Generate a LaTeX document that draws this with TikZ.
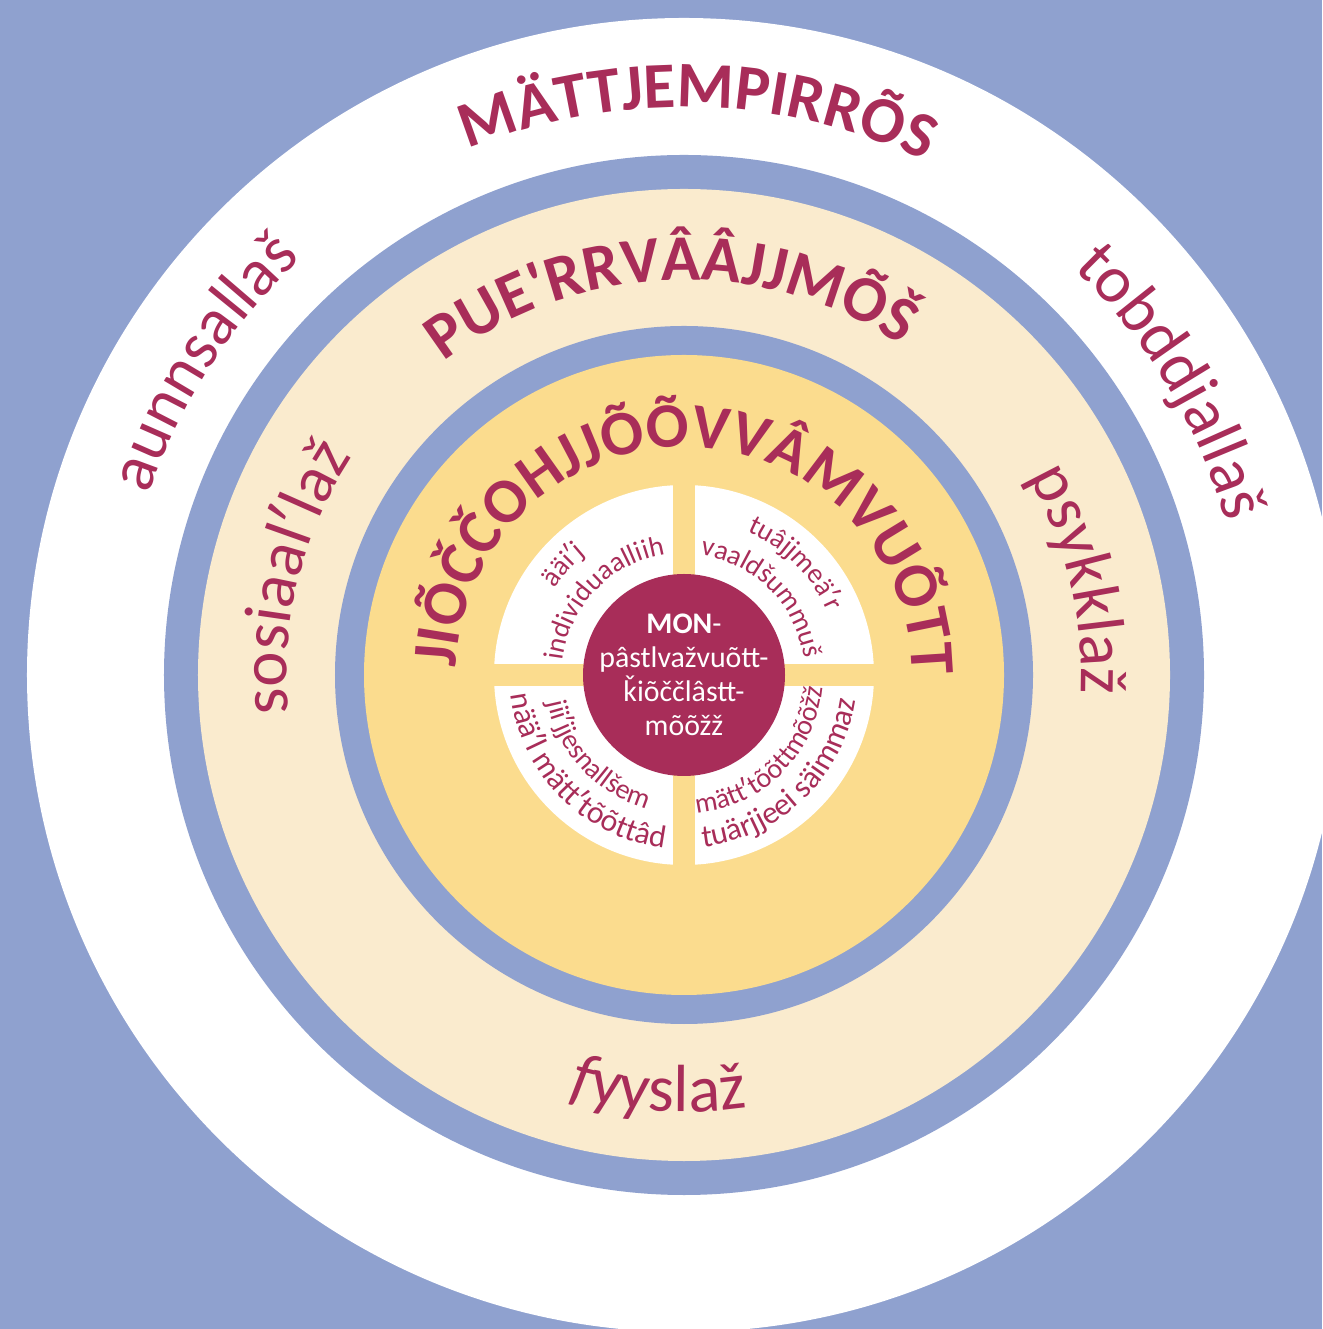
\documentclass[tikz,border=0pt]{standalone}
\usepackage{fontspec}
\setmainfont{Carlito}[Ligatures=TeXOff]
\usetikzlibrary{decorations.text}

\definecolor{ringblue}{RGB}{143,161,207}
\definecolor{creamband}{RGB}{250,235,206}
\definecolor{sunyellow}{RGB}{251,220,142}
\definecolor{wordred}{RGB}{168,45,89}

\newcommand{\ttlfont}{\fontsize{18.5}{22}\selectfont\bfseries\color{wordred}}
\newcommand{\inttlfont}{\fontsize{18}{22}\selectfont\bfseries\color{wordred}}
\newcommand{\wrdfont}{\fontsize{19}{23}\selectfont\color{wordred}}
\newcommand{\qdfont}{\fontsize{8}{10}\selectfont\color{wordred}}
\newcommand{\qdbigfont}{\fontsize{9}{11}\selectfont\color{wordred}}

\tikzset{
  arc label/.style={postaction={decorate, decoration={text along path, text align=center, text={#1}}}}
}

\begin{document}
\begin{tikzpicture}
            \useasboundingbox (-6.84,-6.54) rectangle (6.38,6.75);
            \clip (-6.84,-6.54) rectangle (6.38,6.75);
            \fill[ringblue] (-6.84,-6.54) rectangle (6.38,6.75);
            \fill[white] (0,0) circle (6.57);
            \fill[ringblue] (0,0) circle (5.20);
            \fill[creamband] (0,0) circle (4.86);
            \fill[ringblue] (0,0) circle (3.49);
            \fill[sunyellow] (0,0) circle (3.20);
            \fill[white] (0,0) circle (1.90);
            \fill[sunyellow] (-0.11,-1.95) rectangle (0.11,1.95);
            \fill[sunyellow] (-1.95,-0.11) rectangle (1.95,0.11);
            \fill[wordred] (0,0) circle (1.01);

            % outer white ring
            \path[arc label={|\ttlfont|MÄTTJEMPIRRÕS}] (178.6:5.68) arc[start angle=178.6, end angle=-1.4, radius=5.68];
            \path[arc label={|\wrdfont|aunnsallaš}] (237:5.65) arc[start angle=237, end angle=57, radius=5.65];
            \path[arc label={|\wrdfont|tobddjallaš}] (121:5.63) arc[start angle=121, end angle=-59, radius=5.63];

            % cream ring
            \path[arc label={|\ttlfont|PUE'RRVÂÂJJMÕŠ}] (182:3.95) arc[start angle=182, end angle=2, radius=3.95];
            \path[arc label={|\wrdfont|sosiaalʹlaž}] (256:3.97) arc[start angle=256, end angle=76, radius=3.97];
            \path[arc label={|\wrdfont|psykklaž}] (103.6:3.97) arc[start angle=103.6, end angle=-76.4, radius=3.97];
            \path[arc label={|\wrdfont\itshape|f|\wrdfont\upshape|yyslaž}] (176.5:4.37) arc[start angle=176.5, end angle=356.5, radius=4.37];

            % yellow disc
            \path[arc label={|\inttlfont|JIÕČČOHJJÕÕVVÂMVUÕTT}] (209:2.28) arc[start angle=209, end angle=-31, radius=2.28];

            % quarters
            \path[arc label={|\qdfont|ääiʹj}] (197.7:1.56) arc[start angle=197.7, end angle=77.7, radius=1.56];
            \path[arc label={|\qdfont|individuaalliih}] (196:1.22) arc[start angle=196, end angle=76, radius=1.22];
            \path[arc label={|\qdfont|tuâjjmeäʹr}] (105:1.57) arc[start angle=105, end angle=-15, radius=1.57];
            \path[arc label={|\qdfont|vaaldšummuš}] (105:1.21) arc[start angle=105, end angle=-15, radius=1.21];
            \path[arc label={|\qdfont|jiiʹjjesnallšem}] (163:1.39) arc[start angle=163, end angle=283, radius=1.39];
            \path[arc label={|\qdbigfont|nääʹl mättʹtõõttâd}] (165:1.74) arc[start angle=165, end angle=285, radius=1.74];
            \path[arc label={|\qdfont|mättʹtõõttmõõžž}] (255:1.39) arc[start angle=255, end angle=375, radius=1.39];
            \path[arc label={|\qdbigfont|tuärjjeei säimmaz}] (254:1.73) arc[start angle=254, end angle=374, radius=1.73];

            \node[align=center, text=white, font=\fontsize{8.5}{9.7}\selectfont] (core) at (0,0) {\textbf{MON}-\\pâstlvažvuõtt-\\ǩiõččlâstt-\\mõõžž};
\end{tikzpicture}
\end{document}
